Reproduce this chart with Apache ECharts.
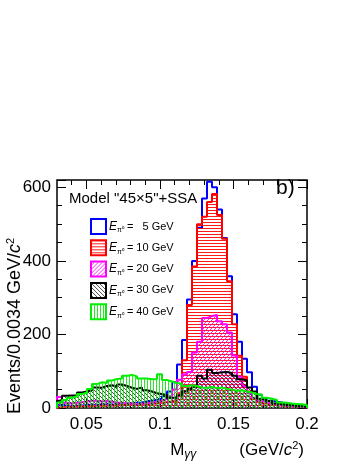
<!DOCTYPE html>
<html>
<head>
<meta charset="utf-8">
<script src="https://cdn.jsdelivr.net/npm/echarts@6/dist/echarts.min.js"></script>
<style>html,body{margin:0;padding:0;background:#fff}#c{width:360px;height:466px}</style>
</head>
<body>
<div id="c"></div>
<script>
// Binning: 50 bins of 0.0034 GeV/c^2 from 0.03 to 0.2
const binMin = 0.03;
const binWidth = 0.0034;
const xTickMajor = [0.05, 0.1, 0.15, 0.2];
const xTickMinor = [0.04, 0.06, 0.07, 0.08, 0.09, 0.11, 0.12, 0.13, 0.14, 0.16, 0.17, 0.18, 0.19];
const seriesNames = ['5 GeV', '10 GeV', '20 GeV', '30 GeV', '40 GeV'];

const e5 = [8,6,5,6,7,8,8,9,8,10,9,10,10,12,12,14,15,18,20,22,26,32,45,70,118,185,295,400,490,570,615,600,540,462,358,255,180,134,97,58,36,26,20,17,15,10,8,6,5,3];
const e10 = [3,3,4,4,5,5,5,6,6,6,7,7,8,8,8,9,10,10,12,12,14,16,18,20,40,130,280,385,500,520,560,582,525,460,345,228,142,85,45,25,18,12,10,8,6,5,4,3,3,2];
const e20 = [30,14,12,14,16,18,20,20,18,19,17,15,14,13,12,11,12,13,15,17,20,25,32,50,77,92,98,151,180,245,250,253,236,228,205,143,85,60,40,28,20,15,12,10,8,6,5,4,3,2];
const e30 = [20,33,34,35,42,45,48,56,55,60,62,58,64,60,55,52,56,48,45,40,38,35,28,28,35,45,52,58,88,80,104,95,97,98,95,88,78,75,56,45,25,20,18,12,10,8,8,5,5,3];
const e40 = [15,22,28,32,38,42,52,65,70,68,75,79,80,88,90,86,80,80,78,79,92,76,72,68,66,60,62,60,56,55,57,54,56,52,50,47,48,45,42,38,36,28,25,22,15,14,12,11,10,8];

const FONT = 'Liberation Sans, Arial, Helvetica, sans-serif';

function edge(i) { return Math.round((binMin + i * binWidth) * 1e5) / 1e5; }
function histData(vals) {
  const d = [[edge(0), 0]];
  vals.forEach((v, i) => d.push([edge(i), v]));
  d.push([edge(vals.length), vals[vals.length - 1]]);
  d.push([edge(vals.length), 0]);
  return d;
}
function hatch(color, kind) {
  const c = document.createElement('canvas');
  const ctx = c.getContext('2d');
  if (kind === 'h') { c.width = 4; c.height = 3; ctx.fillStyle = color; ctx.fillRect(0, 0, 4, 1); }
  else if (kind === 'v') { c.width = 3; c.height = 4; ctx.fillStyle = color; ctx.fillRect(0, 0, 1, 4); }
  else if (kind === 'f') { c.width = 4; c.height = 4; ctx.fillStyle = color; for (let i = 0; i < 4; i++) ctx.fillRect(i, 3 - i, 1, 1); }
  else { c.width = 4; c.height = 4; ctx.fillStyle = color; for (let i = 0; i < 4; i++) ctx.fillRect(i, i, 1, 1); }
  return { image: c, repeat: 'repeat' };
}

const colors = ['#0000ff', '#ff0000', '#ff00ff', '#000000', '#00ee00'];
const fills = [null, hatch('rgba(255,0,0,0.9)', 'h'), hatch('rgba(255,0,255,0.85)', 'f'), hatch('rgba(0,0,0,0.7)', 'b'), hatch('rgba(0,230,0,0.85)', 'v')];
const values = [e5, e10, e20, e30, e40];

const series = values.map((vals, k) => {
  const s = {
    name: seriesNames[k], type: 'line', step: 'end', xAxisIndex: 0, yAxisIndex: 0,
    data: histData(vals), symbol: 'none', silent: true, z: 2 + k,
    lineStyle: { color: colors[k], width: 2 }, itemStyle: { color: colors[k] }
  };
  if (fills[k]) s.areaStyle = { color: fills[k], opacity: 1 };
  return s;
});

const legendLabels = ['=   5 GeV', '= 10 GeV', '= 20 GeV', '= 30 GeV', '= 40 GeV'];

const chart = echarts.init(document.getElementById('c'), null, { renderer: 'canvas' });
const xBase = { type: 'value', min: 0.03, max: 0.2, gridIndex: 0, splitLine: { show: false } };
const yBase = { type: 'value', min: 0, max: 620, interval: 200, gridIndex: 0, splitLine: { show: false } };
chart.setOption({
  animation: false,
  textStyle: { fontFamily: FONT },
  grid: { left: 57, right: 53, top: 180, bottom: 58, containLabel: false, outerBoundsMode: 'none', show: true, borderColor: '#000', borderWidth: 1.5, backgroundColor: 'transparent' },
  xAxis: [
    Object.assign({}, xBase, {
      position: 'bottom',
      axisLine: { show: false },
      axisTick: { inside: true, length: 9, customValues: xTickMajor, lineStyle: { color: '#000' } },
      axisLabel: { customValues: xTickMajor, fontSize: 17, color: '#000', margin: 8, fontFamily: FONT, formatter: v => String(+v.toFixed(2)) },
      name: '{m|M}{g|γγ}{sp|}(GeV/{i|c}{sup|2})',
      nameLocation: 'end', nameGap: -3,
      nameTextStyle: { align: 'right', verticalAlign: 'top', padding: [32, 0, 0, 0], fontSize: 17, color: '#000', fontFamily: FONT,
        rich: { m: { fontSize: 17, fontFamily: FONT }, g: { fontSize: 12, fontStyle: 'italic', padding: [9, 0, 0, 0], fontFamily: FONT }, sp: { width: 43 }, i: { fontSize: 17, fontStyle: 'italic', fontFamily: FONT }, sup: { fontSize: 11, padding: [0, 0, 9, 0], fontFamily: FONT } } }
    }),
    Object.assign({}, xBase, { position: 'bottom', axisLine: { show: false }, axisLabel: { show: false },
      axisTick: { inside: true, length: 5, customValues: xTickMinor, lineStyle: { color: '#000' } } }),
    Object.assign({}, xBase, { position: 'top', axisLine: { show: false }, axisLabel: { show: false },
      axisTick: { inside: true, length: 9, customValues: xTickMajor, lineStyle: { color: '#000' } } }),
    Object.assign({}, xBase, { position: 'top', axisLine: { show: false }, axisLabel: { show: false },
      axisTick: { inside: true, length: 5, customValues: xTickMinor, lineStyle: { color: '#000' } } })
  ],
  yAxis: [
    Object.assign({}, yBase, {
      position: 'left', axisLine: { show: false },
      axisTick: { inside: true, length: 9, lineStyle: { color: '#000' } },
      minorTick: { show: true, splitNumber: 4, length: 5, lineStyle: { color: '#000' } },
      axisLabel: { fontSize: 17, color: '#000', margin: 6, fontFamily: FONT }
    }),
    Object.assign({}, yBase, {
      position: 'right', axisLine: { show: false }, axisLabel: { show: false },
      axisTick: { inside: true, length: 9, lineStyle: { color: '#000' } },
      minorTick: { show: true, splitNumber: 4, length: 5, lineStyle: { color: '#000' } }
    })
  ],
  legend: {
    orient: 'vertical', left: 85, top: 213, itemWidth: 15, itemHeight: 15, itemGap: 4.3,
    icon: 'rect', selectedMode: false,
    data: seriesNames.map((n, k) => ({ name: n, itemStyle: { color: fills[k] || '#ffffff', borderColor: colors[k], borderWidth: 2 } })),
    formatter: name => '{e|E}{s|π⁰} ' + legendLabels[seriesNames.indexOf(name)],
    textStyle: { fontSize: 11, lineHeight: 15, color: '#000', fontFamily: FONT, padding: [0, 0, 0, -2],
      rich: { e: { fontSize: 12, lineHeight: 15, fontStyle: 'italic', fontFamily: FONT }, s: { fontSize: 7, lineHeight: 8, verticalAlign: 'bottom', fontFamily: FONT } } }
  },
  graphic: [
    { type: 'text', left: 69, top: 191, style: { text: 'Model "45×5"+SSA', font: '15px ' + FONT, fill: '#000' } },
    { type: 'text', left: 276, top: 178, style: { text: 'b)', font: '21px ' + FONT, fill: '#000' } },
    { type: 'text', x: 15, y: 326, rotation: Math.PI / 2,
      style: { text: 'Events/0.0034 GeV/{i|c}{sup|2}', font: '18px ' + FONT, fill: '#000', align: 'center', verticalAlign: 'middle',
        rich: { i: { fontSize: 18, fontStyle: 'italic', fontFamily: FONT, lineHeight: 20 }, sup: { fontSize: 11, lineHeight: 12, verticalAlign: 'top', fontFamily: FONT } } } }
  ],
  series: series
});
</script>
</body>
</html>
